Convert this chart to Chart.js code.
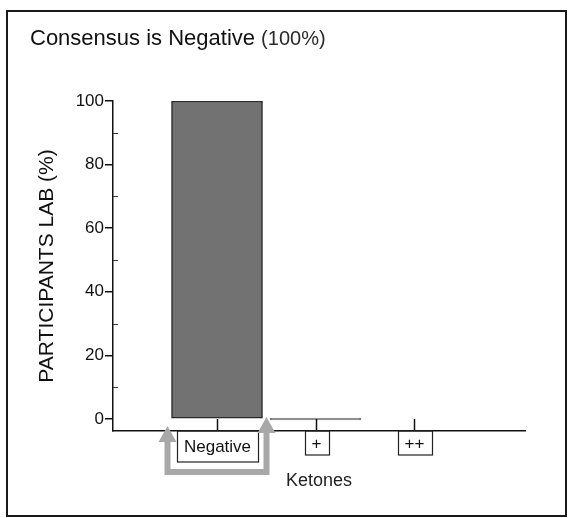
<!DOCTYPE html>
<html>
<head>
<meta charset="utf-8">
<script src="https://cdn.jsdelivr.net/npm/chart.js@4"></script>
<style>
  html, body { margin: 0; padding: 0; background: #fff; }
</style>
</head>
<body>
<canvas id="ketoneChart" width="569" height="518"></canvas>
<script>
const categories = ["Negative", "+", "++"];
const participantsPct = [100, 0, 0];
const yTickValues = [0, 20, 40, 60, 80, 100];
const yMinorValues = [10, 30, 50, 70, 90];

const FONT = "'Liberation Sans', Arial, Helvetica, sans-serif";
const consensusIndex = participantsPct.indexOf(Math.max(...participantsPct));

// frame, title, boxed category labels and the grey bracket
const decorPlugin = {
  id: "decor",
  afterDraw(chart) {
    const ctx = chart.ctx;
    const xs = chart.scales.x;
    const ys = chart.scales.y;
    const axisY = xs.top;
    const zeroY = ys.getPixelForValue(0);

    ctx.save();

    // outer frame
    ctx.strokeStyle = "#1a1a1a";
    ctx.lineWidth = 2;
    ctx.strokeRect(7, 11, 559, 505);

    // title
    ctx.fillStyle = "#111";
    ctx.textBaseline = "alphabetic";
    ctx.textAlign = "left";
    ctx.font = "22px " + FONT;
    const head = "Consensus is " + categories[consensusIndex] + " ";
    ctx.fillText(head, 30, 45);
    const headW = ctx.measureText(head).width;
    ctx.font = "20px " + FONT;
    ctx.fillStyle = "#2a2a2a";
    ctx.fillText("(" + participantsPct[consensusIndex] + "%)", 30 + headW, 45);

    // minor ticks on the y axis
    ctx.strokeStyle = "#333";
    ctx.lineWidth = 1;
    yMinorValues.forEach((v) => {
      const y = Math.round(ys.getPixelForValue(v)) + 0.5;
      ctx.beginPath();
      ctx.moveTo(xs.left, y);
      ctx.lineTo(xs.left + 5, y);
      ctx.stroke();
    });

    // category ticks and boxed labels
    ctx.font = "17px " + FONT;
    ctx.textAlign = "center";
    ctx.textBaseline = "middle";
    let consLeft = 0;
    let consRight = 0;
    categories.forEach((cat, i) => {
      const cx = Math.round(xs.getPixelForValue(i)) + 0.5;
      ctx.strokeStyle = "#111";
      ctx.lineWidth = 1.5;
      ctx.beginPath();
      ctx.moveTo(cx, zeroY);
      ctx.lineTo(cx, axisY);
      ctx.stroke();

      const w = Math.round(ctx.measureText(cat).width + 14);
      const h = i === consensusIndex ? 31 : 24;
      const left = Math.round(cx - w / 2) + 0.5;
      ctx.lineWidth = 1.2;
      ctx.strokeStyle = "#222";
      ctx.fillStyle = "#fff";
      ctx.fillRect(left, axisY + 1, w, h - 1);
      ctx.strokeRect(left, axisY, w, h);
      ctx.fillStyle = "#111";
      ctx.fillText(cat, cx, axisY + h / 2 + 1);
      if (i === consensusIndex) {
        consLeft = left;
        consRight = left + w;
      }
    });

    // grey bracket with arrows around the consensus label
    const lx = consLeft - 10;
    const rx = consRight + 8;
    const bottom = axisY + 41;
    const tipL = axisY - 5;
    const tipR = zeroY - 2;
    ctx.strokeStyle = "#a8a8a8";
    ctx.fillStyle = "#a8a8a8";
    ctx.lineWidth = 6;
    ctx.lineJoin = "miter";
    ctx.beginPath();
    ctx.moveTo(lx, tipL + 14);
    ctx.lineTo(lx, bottom);
    ctx.lineTo(rx, bottom);
    ctx.lineTo(rx, tipR + 14);
    ctx.stroke();
    [[lx, tipL], [rx, tipR]].forEach(([x, tip]) => {
      ctx.beginPath();
      ctx.moveTo(x, tip);
      ctx.lineTo(x + 9, tip + 16);
      ctx.lineTo(x - 9, tip + 16);
      ctx.closePath();
      ctx.fill();
    });

    ctx.restore();
  }
};

const context = document.getElementById("ketoneChart").getContext("2d");
new Chart(context, {
  type: "bar",
  data: {
    datasets: [
      {
        label: "Participants",
        data: categories.map((cat, i) => ({ x: i, y: participantsPct[i] })),
        backgroundColor: ["#727272", "#7a7a7a", "rgba(0,0,0,0)"],
        borderColor: ["#2a2a2a", "#7a7a7a", "rgba(0,0,0,0)"],
        borderWidth: 1.5,
        borderSkipped: false,
        barThickness: 91,
        minBarLength: 2
      }
    ]
  },
  options: {
    responsive: false,
    animation: false,
    layout: { padding: { left: 10, right: 44, top: 101, bottom: 2 } },
    plugins: {
      legend: { display: false },
      tooltip: { enabled: false }
    },
    scales: {
      x: {
        type: "linear",
        offset: false,
        min: -1.056,
        max: 3.127,
        grid: { display: false },
        ticks: { display: false },
        border: { color: "#111", width: 1.5 },
        title: {
          display: true,
          text: "Ketones",
          color: "#222",
          font: { size: 18, family: FONT },
          padding: { top: 0, bottom: 24 }
        },
        afterFit: (scale) => { scale.height = 85; }
      },
      y: {
        min: -3.77,
        max: 100,
        afterBuildTicks: (scale) => {
          scale.ticks = yTickValues.map((value) => ({ value }));
        },
        grid: { drawOnChartArea: false, tickLength: 8, color: "#111", lineWidth: 1.5 },
        border: { color: "#111", width: 1.5 },
        ticks: { color: "#111", padding: 1, font: { size: 17, family: FONT } },
        title: {
          display: true,
          text: "PARTICIPANTS LAB (%)",
          color: "#111",
          font: { size: 21, family: FONT },
          padding: { top: 25, bottom: 0 }
        },
        afterFit: (scale) => { scale.width = 103; }
      }
    }
  },
  plugins: [decorPlugin]
});
</script>
</body>
</html>
